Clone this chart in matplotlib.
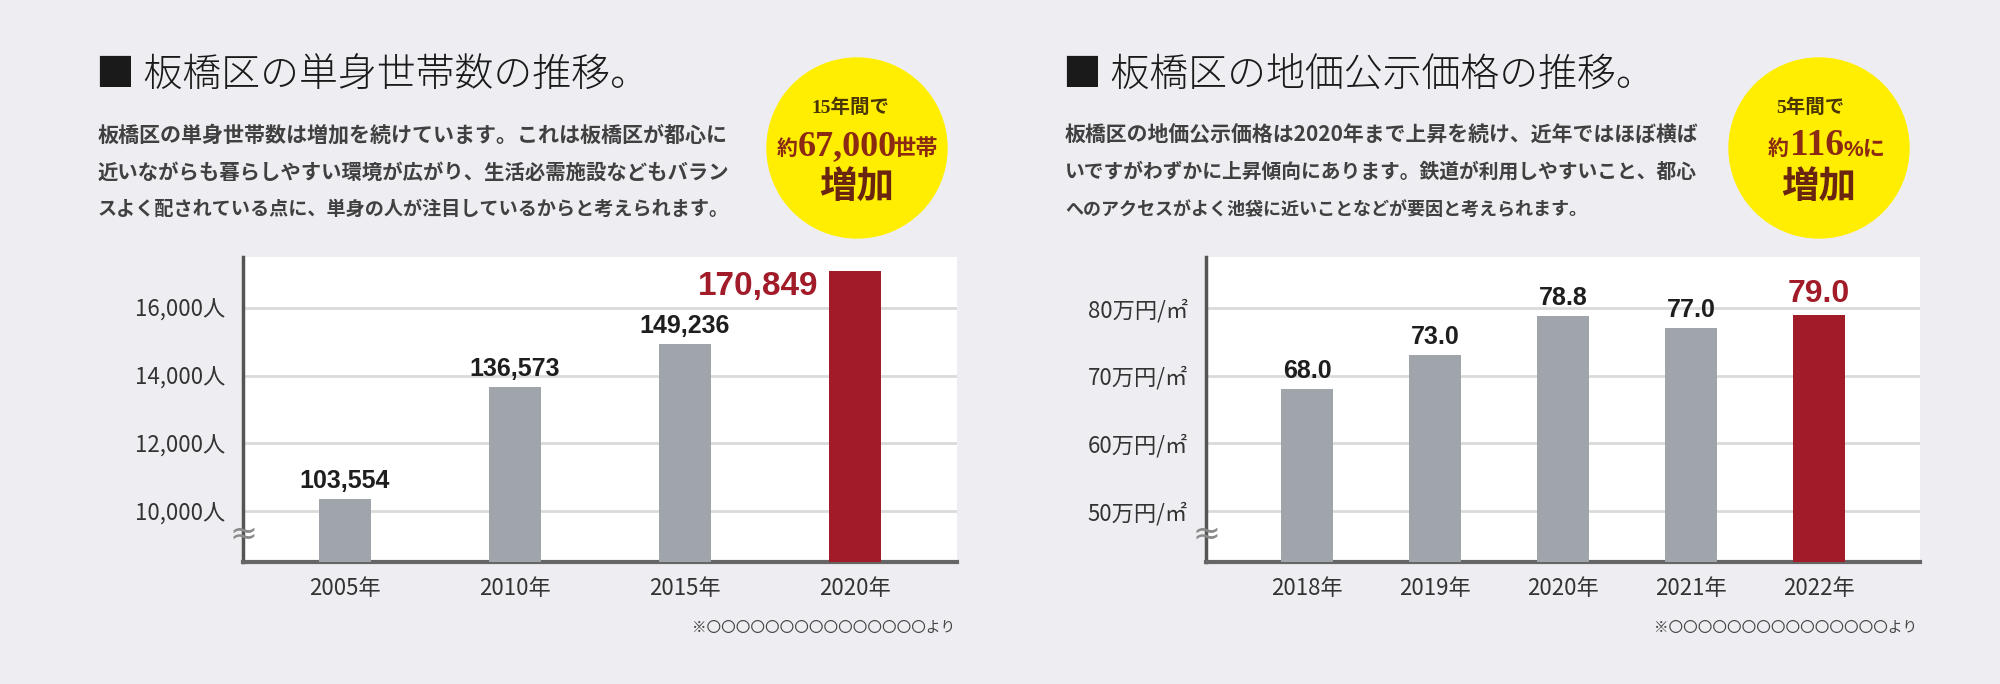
import numpy as np
import matplotlib.pyplot as plt
from matplotlib.patches import Ellipse

plt.rcParams['font.family'] = ['Noto Sans CJK JP', 'DejaVu Sans']

# data
years_l = ['2005年', '2010年', '2015年', '2020年']
households = [103554, 136573, 149236, 170849]
yticks_l = [10000, 12000, 14000, 16000]
yticklabels_l = ['10,000人', '12,000人', '14,000人', '16,000人']

years_r = ['2018年', '2019年', '2020年', '2021年', '2022年']
price = [68.0, 73.0, 78.8, 77.0, 79.0]
yticks_r = [50, 60, 70, 80]
yticklabels_r = ['50万円/㎡', '60万円/㎡', '70万円/㎡', '80万円/㎡']

title_l = '■ 板橋区の単身世帯数の推移。'
body_l = ['板橋区の単身世帯数は増加を続けています。これは板橋区が都心に',
          '近いながらも暮らしやすい環境が広がり、生活必需施設などもバラン',
          'スよく配されている点に、単身の人が注目しているからと考えられます。']
title_r = '■ 板橋区の地価公示価格の推移。'
body_r = ['板橋区の地価公示価格は2020年まで上昇を続け、近年ではほぼ横ば',
          'いですがわずかに上昇傾向にあります。鉄道が利用しやすいこと、都心',
          'へのアクセスがよく池袋に近いことなどが要因と考えられます。']
source = '※' + '〇' * 15 + 'より'

BG = '#eeeef2'
GRAY = '#a0a4ab'
RED = '#a11b29'
W, H = 2000, 684


def fx(x):
    return x / W


def fy(y):
    return 1 - y / H


fig = plt.figure(figsize=(20, 6.84), dpi=100)
fig.patch.set_facecolor(BG)


def draw_chart(left, labels, vals, yticks, yticklabels, ylim, xlim, width):
    ax = fig.add_axes([fx(left), fy(562), 714 / W, 305 / H])
    ax.set_facecolor('white')
    x = np.arange(len(vals))
    colors = [GRAY] * (len(vals) - 1) + [RED]
    ax.bar(x, vals, width=width, color=colors, zorder=3)
    ax.set_xlim(*xlim)
    ax.set_ylim(*ylim)
    ax.set_yticks(yticks)
    ax.set_yticklabels(yticklabels)
    ax.set_xticks(x)
    ax.set_xticklabels(labels)
    ax.tick_params(length=0, labelsize=16, labelcolor='#333333')
    ax.tick_params(axis='y', pad=13)
    ax.tick_params(axis='x', pad=11)
    ax.grid(axis='y', color='#dadada', lw=2, zorder=1)
    for s in ['top', 'right']:
        ax.spines[s].set_visible(False)
    ax.spines['left'].set_color('#555555')
    ax.spines['left'].set_linewidth(2.5)
    ax.spines['bottom'].set_color('#666666')
    ax.spines['bottom'].set_linewidth(3)
    # break mark on the y axis
    ax.text(0, 0.09, '≈', transform=ax.transAxes, ha='center', va='center',
            fontsize=24, color='#8a8a8a', family='DejaVu Sans', zorder=5)
    return ax, x


lab_font = dict(family=['Liberation Sans', 'Noto Sans CJK JP'],
                fontweight='bold')

# left chart (bars drawn at 1/10 scale, as the axis of the original shows)
axl, xl = draw_chart(243, years_l, [v / 10 for v in households], yticks_l,
                     yticklabels_l, (8500, 17500), (-0.6, 3.6), 0.31)
for i, v in enumerate(households[:-1]):
    axl.annotate(f'{v:,}', (xl[i], v / 10), xytext=(0, 6),
                 textcoords='offset pixels', ha='center', va='bottom',
                 fontsize=18, color='#1e1e1e', **lab_font)
axl.annotate(f'{households[-1]:,}', (xl[-1] - 0.155, households[-1] / 10),
             xytext=(-10, -15), textcoords='offset pixels', ha='right',
             va='center', fontsize=24, color=RED, **lab_font)

# right chart
axr, xr = draw_chart(1206, years_r, price, yticks_r, yticklabels_r,
                     (42.5, 87.5), (-0.79, 4.79), 0.41)
for i, v in enumerate(price[:-1]):
    axr.annotate(f'{v:.1f}', (xr[i], v), xytext=(0, 6),
                 textcoords='offset pixels', ha='center', va='bottom',
                 fontsize=18, color='#1e1e1e', **lab_font)
axr.annotate(f'{price[-1]:.1f}', (xr[-1], price[-1]), xytext=(0, 6),
             textcoords='offset pixels', ha='center', va='bottom',
             fontsize=23, color=RED, **lab_font)

# titles and body text (each body line fitted to the justified width)
renderer = fig.canvas.get_renderer()
body_targets = [[632, 632, 632], [634, 634, 525]]
for x0, title, body, targets in [(96, title_l, body_l, body_targets[0]),
                                 (1063, title_r, body_r, body_targets[1])]:
    fig.text(fx(x0), fy(76), title, fontsize=28, fontweight='light',
             ha='left', va='center', color='#1a1a1a')
    for k, line in enumerate(body):
        t = fig.text(fx(x0 + 2), fy(135 + 37 * k), line, fontsize=15,
                     fontweight='bold', ha='left', va='center',
                     color='#404040')
        w = t.get_window_extent(renderer).width
        t.set_fontsize(15 * targets[k] / w)

# source notes
for x_edge in [955, 1917]:
    fig.text(fx(x_edge), fy(628), source, fontsize=10.5, ha='right',
             va='center', color='#444444')

# yellow badges
serif = ['Liberation Serif', 'Noto Sans CJK JP']
for cx in [857, 1819]:
    fig.add_artist(Ellipse((fx(cx), fy(148)), 180 / W, 180 / H,
                           transform=fig.transFigure, color='#ffee00',
                           zorder=0))

DARK = '#4a3505'
BROWN = '#8a2a12'
# left badge
fig.text(fx(850), fy(108), '15年間で', fontsize=14, fontweight='bold',
         family=serif, ha='center', va='center', color=DARK)
fig.text(fx(777), fy(155), '約', fontsize=15, fontweight='bold',
         family=serif, ha='left', va='baseline', color=BROWN)
fig.text(fx(798), fy(155), '67,000', fontsize=26, fontweight='bold',
         family=serif, ha='left', va='baseline', color=BROWN)
fig.text(fx(893), fy(155), '世帯', fontsize=16, fontweight='bold',
         family=serif, ha='left', va='baseline', color=BROWN)
fig.text(fx(857), fy(188), '増加', fontsize=27, fontweight='bold',
         family=serif, ha='center', va='center', color='#6a2510')
# right badge
fig.text(fx(1810), fy(108), '5年間で', fontsize=14, fontweight='bold',
         family=serif, ha='center', va='center', color=DARK)
fig.text(fx(1768), fy(155), '約', fontsize=15, fontweight='bold',
         family=serif, ha='left', va='baseline', color=BROWN)
fig.text(fx(1790), fy(155), '116', fontsize=27, fontweight='bold',
         family=serif, ha='left', va='baseline', color=BROWN)
fig.text(fx(1844), fy(155), '%に', fontsize=16, fontweight='bold',
         family=['Liberation Sans', 'Noto Sans CJK JP'], ha='left',
         va='baseline', color=BROWN)
fig.text(fx(1819), fy(188), '増加', fontsize=27, fontweight='bold',
         family=serif, ha='center', va='center', color='#6a2510')

fig.savefig('out.png', dpi=100, facecolor=BG)
